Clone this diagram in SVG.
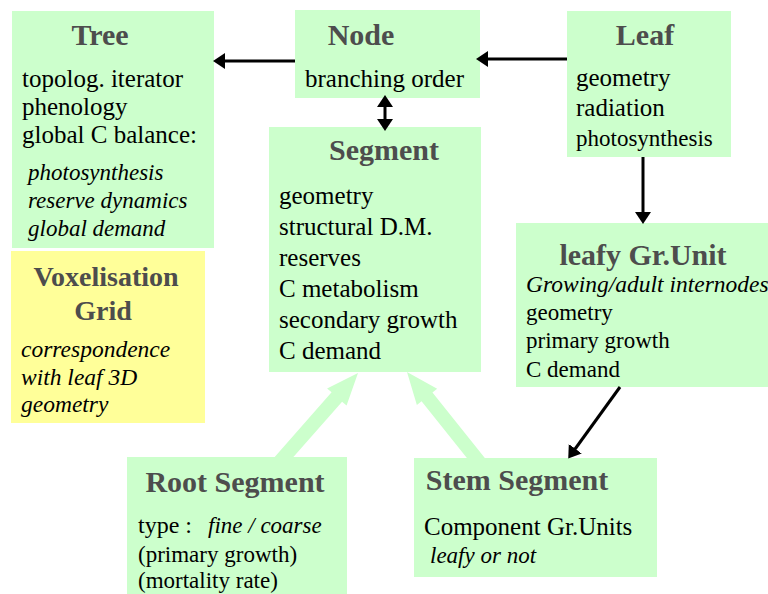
<svg xmlns="http://www.w3.org/2000/svg" width="768" height="594" viewBox="0 0 768 594">
<defs>
<style>
.box{fill:#ccffcc}
.yel{fill:#ffff99}
text{font-family:"Liberation Serif","Times New Roman",Tinos,"DejaVu Serif",serif}
.t{font-weight:bold;font-size:30px;fill:#4d4d4d;text-anchor:middle}
.b{font-size:25px;fill:#000}
.i{font-size:23px;font-style:italic;fill:#000}
.s{font-size:23px}
.fat{fill:#ccffcc}
.ln{stroke:#000;stroke-width:3;fill:none}
</style>
<marker id="ah" markerUnits="userSpaceOnUse" markerWidth="14" markerHeight="18" refX="9" refY="8" orient="auto-start-reverse">
<path d="M0,0 L12,8 L0,16 z" fill="#000"/>
</marker>
</defs>
<rect width="768" height="594" fill="#fff"/>
<g id="fat-connectors">
<polygon class="fat" transform="translate(358,373) rotate(-48.6)" points="0,0 -32,-13 -32,-7 -125,-7 -125,7 -32,7 -32,13"/>
<polygon class="fat" transform="translate(407,372) rotate(-128.7)" points="0,0 -32,-13 -32,-7 -125,-7 -125,7 -32,7 -32,13"/>
</g>
<g id="tree">
<rect class="box" x="12" y="11" width="202" height="237"/>
<text class="t" x="100" y="45">Tree</text>
<text class="b" x="22" y="87">topolog. iterator</text>
<text class="b" x="22" y="115">phenology</text>
<text class="b" x="22" y="143">global C balance:</text>
<text class="i" x="28" y="180">photosynthesis</text>
<text class="i" x="28" y="208">reserve dynamics</text>
<text class="i" x="28" y="236">global demand</text>
</g>
<g id="node">
<rect class="box" x="295" y="10" width="185" height="88"/>
<text class="t" x="361" y="45">Node</text>
<text class="b" x="305" y="87">branching order</text>
</g>
<g id="leaf">
<rect class="box" x="567" y="11" width="164" height="146"/>
<text class="t" x="645" y="45">Leaf</text>
<text class="b" x="576" y="86">geometry</text>
<text class="b" x="576" y="116">radiation</text>
<text class="b s" x="576" y="146">photosynthesis</text>
</g>
<g id="segment">
<rect class="box" x="269" y="127" width="212" height="245"/>
<text class="t" x="384" y="160">Segment</text>
<text class="b" x="279" y="204">geometry</text>
<text class="b" x="279" y="235">structural D.M.</text>
<text class="b" x="279" y="266">reserves</text>
<text class="b" x="279" y="297">C metabolism</text>
<text class="b" x="279" y="328">secondary growth</text>
<text class="b" x="279" y="359">C demand</text>
</g>
<g id="voxelisation-grid">
<rect class="yel" x="11" y="251" width="194" height="172"/>
<text class="t" x="106" y="286" style="font-size:28px">Voxelisation</text>
<text class="t" x="103" y="320" style="font-size:28px">Grid</text>
<text class="i" x="21" y="357" style="font-size:23.5px">correspondence</text>
<text class="i" x="21" y="385" style="font-size:23.5px">with leaf 3D</text>
<text class="i" x="21" y="412" style="font-size:23.5px">geometry</text>
</g>
<g id="leafy-gr-unit">
<rect class="box" x="516" y="223" width="252" height="164"/>
<text class="t" x="643" y="265">leafy Gr.Unit</text>
<text class="i" x="526" y="292" style="font-size:23.5px">Growing/adult internodes</text>
<text class="b s" x="526" y="320">geometry</text>
<text class="b s" x="526" y="348">primary growth</text>
<text class="b s" x="526" y="377">C demand</text>
</g>
<g id="root-segment">
<rect class="box" x="127" y="457" width="220" height="137"/>
<text class="t" x="235" y="492">Root Segment</text>
<text class="b" x="138" y="533" style="font-size:24px">type :</text>
<text class="i" x="208" y="533">fine / coarse</text>
<text class="b s" x="138" y="562">(primary growth)</text>
<text class="b s" x="138" y="588">(mortality rate)</text>
</g>
<g id="stem-segment">
<rect class="box" x="414" y="458" width="243" height="119"/>
<text class="t" x="517" y="490">Stem Segment</text>
<text class="b" x="424" y="535">Component Gr.Units</text>
<text class="i" x="430" y="563">leafy or not</text>
</g>
<g id="connectors">
<line class="ln" x1="295" y1="61" x2="216" y2="61" marker-end="url(#ah)"/>
<line class="ln" x1="567" y1="59" x2="479" y2="59" marker-end="url(#ah)"/>
<line class="ln" x1="385" y1="98" x2="385" y2="128" marker-start="url(#ah)" marker-end="url(#ah)"/>
<line class="ln" x1="643" y1="157" x2="643" y2="221" marker-end="url(#ah)"/>
<line class="ln" x1="620" y1="387" x2="570" y2="456" marker-end="url(#ah)"/>
</g>
</svg>
